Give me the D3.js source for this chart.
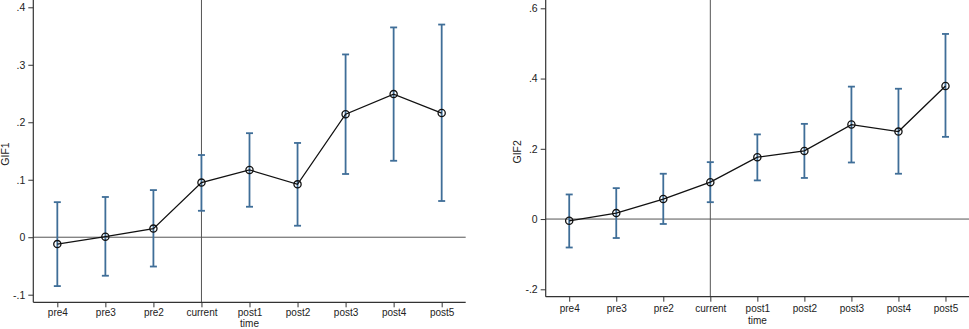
<!DOCTYPE html>
<html>
<head>
<meta charset="utf-8">
<script src="https://cdn.jsdelivr.net/npm/d3@7"></script>
<style>
  html, body { margin: 0; padding: 0; background: #fff; }
  svg { display: block; font-family: "Liberation Sans", Arial, sans-serif; }
</style>
</head>
<body>
<svg id="chart" width="969" height="329"></svg>
<script>
// ---- data ----
const categories = ["pre4", "pre3", "pre2", "current", "post1", "post2", "post3", "post4", "post5"];

const gif1Est = [-0.012, 0.001, 0.015, 0.095, 0.117, 0.092, 0.214, 0.249, 0.216];
const gif1Lo  = [-0.085, -0.067, -0.051, 0.046, 0.053, 0.020, 0.110, 0.133, 0.063];
const gif1Hi  = [0.061, 0.070, 0.082, 0.143, 0.181, 0.164, 0.318, 0.365, 0.370];

const gif2Est = [-0.005, 0.017, 0.057, 0.105, 0.176, 0.194, 0.269, 0.249, 0.379];
const gif2Lo  = [-0.081, -0.054, -0.014, 0.048, 0.110, 0.117, 0.161, 0.129, 0.234];
const gif2Hi  = [0.070, 0.088, 0.129, 0.162, 0.241, 0.271, 0.377, 0.371, 0.527];

const gif1Ticks = [-0.1, 0, 0.1, 0.2, 0.3, 0.4];
const gif2Ticks = [-0.2, 0, 0.2, 0.4, 0.6];

const xTitle = "time";
const refCategory = "current";

// ---- drawing ----
const svg = d3.select("#chart");
const barColor = "#3f6e98";
const fs = 10;
const fmt = v => {
  if (Math.abs(v) < 1e-9) return "0";
  let s = String(+v.toFixed(2));
  return s.replace(/^(-?)0\./, "$1.");
};

function panel(cfg) {
  const g = svg.append("g");
  const x = d3.scalePoint().domain(categories).range([cfg.left, cfg.right]).padding(0.5);
  const y = d3.scaleLinear().domain(cfg.domain).range(cfg.yrange);
  const top = 0, bottom = cfg.bottom;

  // reference lines
  g.append("line")
    .attr("x1", x(refCategory)).attr("x2", x(refCategory))
    .attr("y1", top).attr("y2", bottom)
    .attr("stroke", "#555").attr("stroke-width", 1);
  g.append("line")
    .attr("x1", cfg.left).attr("x2", cfg.right)
    .attr("y1", y(0)).attr("y2", y(0))
    .attr("stroke", "#555").attr("stroke-width", 1);

  // y axis
  const yAxis = g.append("g").attr("transform", `translate(${cfg.left},0)`)
    .call(d3.axisLeft(y).tickValues(cfg.ticks).tickFormat(fmt).tickSize(5).tickPadding(3));
  yAxis.select(".domain").remove();
  g.append("line").attr("x1", cfg.left).attr("x2", cfg.left).attr("y1", top).attr("y2", bottom)
    .attr("stroke", "#333").attr("stroke-width", 1.2);
  yAxis.selectAll("line").attr("stroke", "#333");
  yAxis.selectAll("text").attr("font-size", fs + 0.5).attr("fill", "#222")
    .attr("font-family", "Liberation Sans, Arial, sans-serif");

  // x axis
  const xAxis = g.append("g").attr("transform", `translate(0,${bottom})`)
    .call(d3.axisBottom(x).tickSize(5).tickPadding(cfg.xPad));
  xAxis.select(".domain").remove();
  g.append("line").attr("x1", cfg.left).attr("x2", cfg.right).attr("y1", bottom).attr("y2", bottom)
    .attr("stroke", "#333").attr("stroke-width", 1.2);
  xAxis.selectAll("line").attr("stroke", "#333");
  xAxis.selectAll("text").attr("font-size", fs).attr("fill", "#222")
    .attr("font-family", "Liberation Sans, Arial, sans-serif");

  // axis titles
  g.append("text").attr("x", x("post1")).attr("y", bottom + cfg.timeOffset)
    .attr("text-anchor", "middle").attr("font-size", fs).attr("fill", "#222").text(xTitle);
  g.append("text")
    .attr("transform", `translate(${cfg.ytitleX},${(cfg.yrange[0] + cfg.yrange[1]) / 2 + 3}) rotate(-90)`)
    .attr("text-anchor", "middle").attr("font-size", fs + 0.5).attr("fill", "#222").text(cfg.title);

  const rows = categories.map((c, i) => ({ c, est: cfg.est[i], lo: cfg.lo[i], hi: cfg.hi[i] }));

  // error bars
  const eb = g.append("g").attr("stroke", barColor).attr("stroke-width", 1.8);
  eb.selectAll(".v").data(rows).join("line")
    .attr("x1", d => x(d.c)).attr("x2", d => x(d.c))
    .attr("y1", d => y(d.lo)).attr("y2", d => y(d.hi));
  eb.selectAll(".ch").data(rows).join("line")
    .attr("x1", d => x(d.c) - 3.5).attr("x2", d => x(d.c) + 3.5)
    .attr("y1", d => y(d.hi)).attr("y2", d => y(d.hi));
  eb.selectAll(".cl").data(rows).join("line")
    .attr("x1", d => x(d.c) - 3.5).attr("x2", d => x(d.c) + 3.5)
    .attr("y1", d => y(d.lo)).attr("y2", d => y(d.lo));

  // connected line
  g.append("path").datum(rows)
    .attr("d", d3.line().x(d => x(d.c)).y(d => y(d.est)))
    .attr("fill", "none").attr("stroke", "#111").attr("stroke-width", 1.3);

  // markers
  g.selectAll("circle").data(rows).join("circle")
    .attr("cx", d => x(d.c)).attr("cy", d => y(d.est)).attr("r", 3.6)
    .attr("fill", "none").attr("stroke", "#111").attr("stroke-width", 1.3);
}

panel({
  left: 33.3, right: 465.7, bottom: 302.3,
  domain: [-0.1, 0.4], yrange: [294.7, 7.3],
  ticks: gif1Ticks, est: gif1Est, lo: gif1Lo, hi: gif1Hi,
  title: "GIF1", ytitleX: 9, timeOffset: 24.4, xPad: 1.2
});
panel({
  left: 545.7, right: 969, bottom: 296.7,
  domain: [-0.2, 0.6], yrange: [289.3, 8.3],
  ticks: gif2Ticks, est: gif2Est, lo: gif2Lo, hi: gif2Hi,
  title: "GIF2", ytitleX: 521, timeOffset: 27, xPad: 3.4
});
</script>
</body>
</html>
